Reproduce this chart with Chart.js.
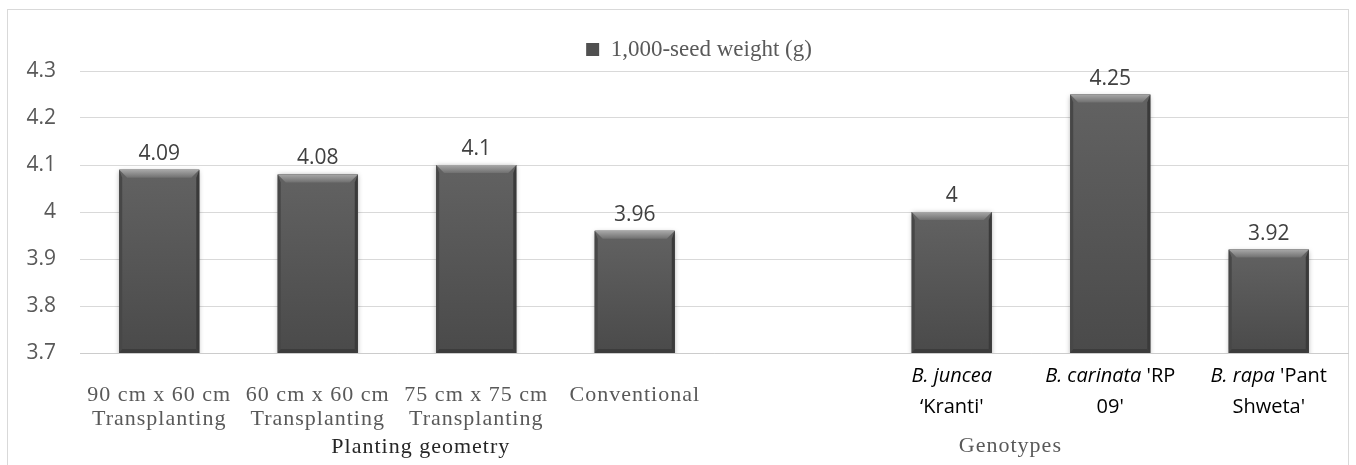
<!DOCTYPE html>
<html>
<head>
<meta charset="utf-8">
<script src="https://cdn.jsdelivr.net/npm/chart.js@4.4.1/dist/chart.umd.min.js"></script>
<style>
  html, body { margin: 0; padding: 0; background: #ffffff; }
  #wrap { width: 1356px; height: 465px; position: relative; }
</style>
</head>
<body>
<div id="wrap"><canvas id="c" width="1356" height="465"></canvas></div>
<script>
// ---- data ----
const categories = [
  '90 cm x 60 cm Transplanting',
  '60 cm x 60 cm Transplanting',
  '75 cm x 75 cm Transplanting',
  'Conventional',
  '',
  "B. juncea ‘Kranti'",
  "B. carinata 'RP 09'",
  "B. rapa 'Pant Shweta'"
];
const seedWeight = [4.09, 4.08, 4.1, 3.96, null, 4.0, 4.25, 3.92];
const seedWeightLabels = ['4.09', '4.08', '4.1', '3.96', '', '4', '4.25', '3.92'];
const seriesName = '1,000-seed weight (g)';

// planting-geometry tick labels (two lines each)
const plantingLine1 = ['90 cm x 60 cm', '60 cm x 60 cm', '75 cm x 75 cm', 'Conventional'];
const plantingLine2 = ['Transplanting', 'Transplanting', 'Transplanting', ''];
// genotype tick labels: italic species + normal cultivar text
const genotypeSpecies = ['B. juncea', 'B. carinata', 'B. rapa'];
const genotypeLine1Rest = ['', " 'RP", " 'Pant"];
const genotypeLine2 = ["‘Kranti'", "09'", "Shweta'"];
const groupNames = ['Planting geometry', 'Genotypes'];

const yTicks = [3.7, 3.8, 3.9, 4.0, 4.1, 4.2, 4.3];

// ---- styling ----
const SANS = "'Open Sans', 'Liberation Sans', sans-serif";
const SERIF = "'Liberation Serif', 'DejaVu Serif', serif";

const framePlugin = {
  id: 'frame',
  beforeDraw(chart) {
    const ctx = chart.ctx;
    ctx.save();
    ctx.fillStyle = '#ffffff';
    ctx.fillRect(0, 0, chart.width, chart.height);
    ctx.strokeStyle = '#d9d9d9';
    ctx.lineWidth = 1;
    ctx.strokeRect(7.5, 9.5, chart.width - 15, chart.height + 20);
    ctx.restore();
  }
};

const legendShiftPlugin = {
  id: 'legendShift',
  afterLayout(chart) {
    if (chart.legend) {
      chart.legend.left += 21;
      chart.legend.right += 21;
    }
  }
};

const barStylePlugin = {
  id: 'barStyle',
  beforeDatasetsDraw(chart) {
    const ctx = chart.ctx;
    ctx.save();
    ctx.shadowColor = 'rgba(0,0,0,0.35)';
    ctx.shadowBlur = 5;
    ctx.shadowOffsetX = 0;
    ctx.shadowOffsetY = 1;
  },
  afterDatasetsDraw(chart) {
    const ctx = chart.ctx;
    ctx.restore();
    const area = chart.chartArea;
    const meta = chart.getDatasetMeta(0);
    meta.data.forEach((el, i) => {
      if (seedWeight[i] === null) return;
      const p = el.getProps(['x', 'y', 'base', 'width'], true);
      const l = p.x - p.width / 2, r = p.x + p.width / 2, t = p.y;
      const b = Math.min(p.base, area.bottom);
      const bv = 8, sv = 3, bb = 4;
      ctx.save();
      // body
      const g = ctx.createLinearGradient(0, t, 0, b);
      g.addColorStop(0, '#626262');
      g.addColorStop(1, '#4a4a4a');
      ctx.fillStyle = g;
      ctx.fillRect(l, t, p.width, b - t);
      // top bevel
      const gt = ctx.createLinearGradient(0, t, 0, t + bv);
      gt.addColorStop(0, '#a8a8a8');
      gt.addColorStop(1, '#707070');
      ctx.fillStyle = gt;
      ctx.beginPath();
      ctx.moveTo(l, t); ctx.lineTo(r, t); ctx.lineTo(r - bv, t + bv); ctx.lineTo(l + bv, t + bv); ctx.closePath();
      ctx.fill();
      // left bevel
      ctx.fillStyle = '#474747';
      ctx.beginPath();
      ctx.moveTo(l, t); ctx.lineTo(l + sv, t + bv); ctx.lineTo(l + sv, b - bb); ctx.lineTo(l, b); ctx.closePath();
      ctx.fill();
      // right bevel
      ctx.fillStyle = '#3a3a3a';
      ctx.beginPath();
      ctx.moveTo(r, t); ctx.lineTo(r - sv, t + bv); ctx.lineTo(r - sv, b - bb); ctx.lineTo(r, b); ctx.closePath();
      ctx.fill();
      // bottom bevel
      ctx.fillStyle = '#3c3c3c';
      ctx.beginPath();
      ctx.moveTo(l, b); ctx.lineTo(l + sv, b - bb); ctx.lineTo(r - sv, b - bb); ctx.lineTo(r, b); ctx.closePath();
      ctx.fill();
      // value label
      ctx.fillStyle = '#404040';
      ctx.font = '21px ' + SANS;
      ctx.textAlign = 'center';
      ctx.textBaseline = 'alphabetic';
      ctx.fillText(seedWeightLabels[i], p.x, t - 10);
      ctx.restore();
    });
  }
};

const axisLabelPlugin = {
  id: 'axisLabels',
  afterDraw(chart) {
    const ctx = chart.ctx;
    const xs = chart.scales.x;
    const bottom = chart.chartArea.bottom;
    ctx.save();
    ctx.textAlign = 'center';
    ctx.textBaseline = 'alphabetic';
    // planting geometry labels (serif, gray)
    ctx.fillStyle = '#595959';
    ctx.font = '22px ' + SERIF;
    if ('letterSpacing' in ctx) ctx.letterSpacing = '1px';
    plantingLine1.forEach((txt, i) => {
      const x = xs.getPixelForTick(i);
      ctx.fillText(txt, x, bottom + 48);
      if (plantingLine2[i]) ctx.fillText(plantingLine2[i], x, bottom + 72);
    });
    // group labels
    ctx.fillStyle = '#262626';
    ctx.fillText(groupNames[0], xs.getPixelForValue(1.65), bottom + 100);
    ctx.fillStyle = '#595959';
    ctx.fillText(groupNames[1], xs.getPixelForValue(5.37), bottom + 99);
    if ('letterSpacing' in ctx) ctx.letterSpacing = '0px';
    // genotype labels (sans, black, italic species)
    ctx.fillStyle = '#000000';
    genotypeSpecies.forEach((sp, k) => {
      const x = xs.getPixelForTick(5 + k);
      ctx.font = 'italic 20px ' + SANS;
      const w1 = ctx.measureText(sp).width;
      ctx.font = '20px ' + SANS;
      const w2 = ctx.measureText(genotypeLine1Rest[k]).width;
      const start = x - (w1 + w2) / 2;
      ctx.textAlign = 'left';
      ctx.font = 'italic 20px ' + SANS;
      ctx.fillText(sp, start, bottom + 29);
      ctx.font = '20px ' + SANS;
      ctx.fillText(genotypeLine1Rest[k], start + w1, bottom + 29);
      ctx.textAlign = 'center';
      ctx.fillText(genotypeLine2[k], x, bottom + 60);
    });
    ctx.restore();
  }
};

new Chart(document.getElementById('c'), {
  type: 'bar',
  data: {
    labels: categories,
    datasets: [{
      label: seriesName,
      data: seedWeight,
      backgroundColor: '#505050',
      borderWidth: 0,
      categoryPercentage: 1.0,
      barPercentage: 0.505
    }]
  },
  options: {
    responsive: false,
    animation: false,
    devicePixelRatio: 1,
    layout: { padding: { top: 28, left: 8, right: 8, bottom: 112 } },
    plugins: {
      legend: {
        display: true,
        position: 'top',
        labels: {
          color: '#595959',
          font: { family: SERIF, size: 23 },
          boxWidth: 13,
          boxHeight: 13,
          padding: 10
        }
      },
      tooltip: { enabled: false }
    },
    scales: {
      x: {
        type: 'category',
        offset: true,
        grid: { display: false, drawTicks: false },
        border: { display: true, color: '#cccccc', width: 1 },
        ticks: { display: false }
      },
      y: {
        min: 3.7,
        max: 4.3,
        afterFit(scale) { scale.width = 72; },
        afterBuildTicks(scale) { scale.ticks = yTicks.map(v => ({ value: v })); },
        grid: { color: '#d9d9d9', drawTicks: false, lineWidth: 1 },
        border: { display: false },
        ticks: {
          padding: 24,
          color: '#595959',
          font: { family: SANS, size: 21 },
          callback: (v) => String(Number(Number(v).toFixed(1)))
        }
      }
    }
  },
  plugins: [framePlugin, legendShiftPlugin, barStylePlugin, axisLabelPlugin]
});
</script>
</body>
</html>
